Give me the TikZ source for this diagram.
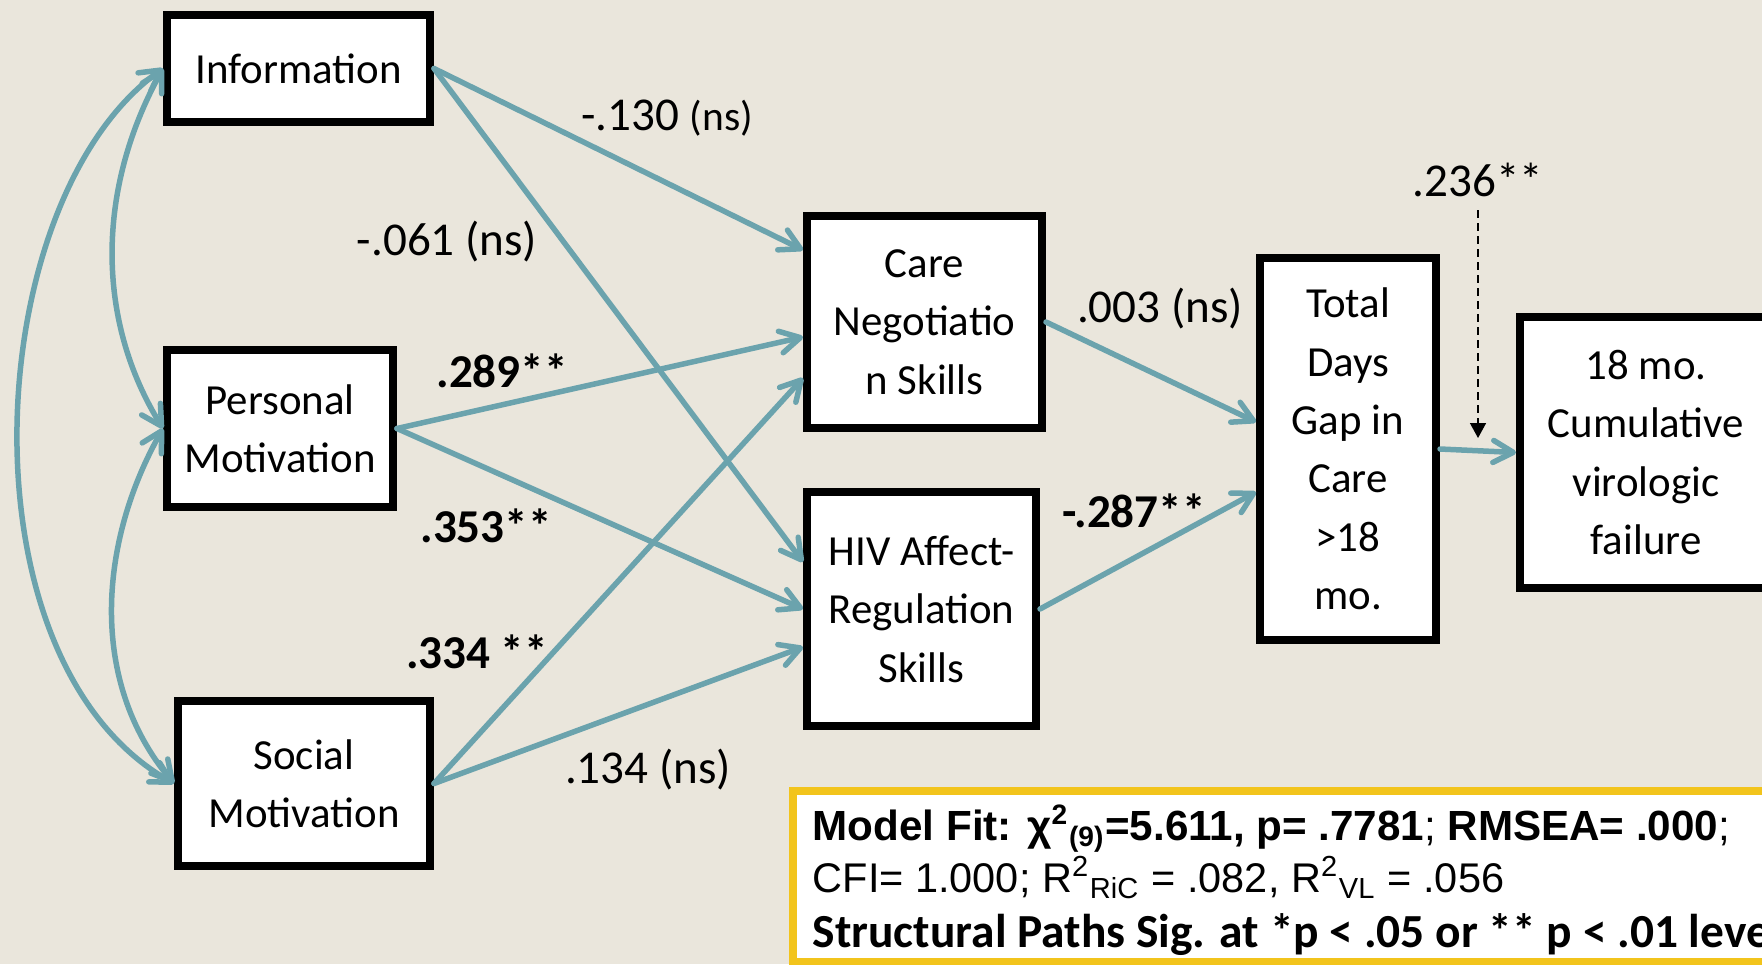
\documentclass[tikz,border=0pt]{standalone}
\usepackage{fontspec}
\setmainfont{Carlito}
\newfontfamily\arialfont{Liberation Sans}
\usetikzlibrary{arrows.meta}
\definecolor{bgbeige}{HTML}{EAE6DC}
\definecolor{pathteal}{HTML}{6BA3AD}
\definecolor{fitgold}{HTML}{F2C41C}
\tikzset{
  var/.style={draw=black,fill=white,line width=.08cm,inner sep=0pt,align=center,font=\fontsize{12.2}{16.6}\selectfont},
  sempath/.style={draw=pathteal,line width=.055cm,line cap=round,-{Straight Barb[length=.2cm,width=.22cm,round]}},
  corr/.style={sempath,{Straight Barb[length=.2cm,width=.22cm,round]}-{Straight Barb[length=.2cm,width=.22cm,round]}},
  modpath/.style={draw=black,line width=.015cm,dash pattern=on .08cm off .05cm,-{Triangle[length=.15cm,width=.16cm]}},
  coef/.style={inner sep=0pt,font=\fontsize{13.4}{16}\selectfont},
  coefsig/.style={inner sep=0pt,font=\fontsize{13.4}{16}\selectfont\bfseries},
  fitline/.style={anchor=base west,inner sep=0pt}
}
\begin{document}
\begin{tikzpicture}
\useasboundingbox (0,0) rectangle (17.62,-9.64);
\fill[bgbeige] (0,0) rectangle (17.62,-9.64);
\clip (0,0) rectangle (17.62,-9.64);
\node[var,minimum width=2.63cm,minimum height=1.07cm] (info) at (2.985,-.685) {Information};
\node[var,minimum width=2.26cm,minimum height=1.57cm] (pers) at (2.80,-4.285) {Personal\\Motivation};
\node[var,minimum width=2.52cm,minimum height=1.65cm] (soc) at (3.04,-7.835) {Social\\Motivation};
\node[var,minimum width=2.35cm,minimum height=2.12cm] (care) at (9.245,-3.22) {Care\\Negotiatio\\n Skills};
\node[var,minimum width=2.29cm,minimum height=2.34cm] (hiv) at (9.215,-6.09) {HIV Affect-\\Regulation\\Skills};
\node[var,minimum width=1.76cm,minimum height=3.82cm] (total) at (13.48,-4.49) {Total\\Days\\Gap in\\Care\\>18\\mo.};
\node[var,minimum width=2.52cm,minimum height=2.71cm] (fail) at (16.46,-4.525) {18 mo.\\Cumulative\\virologic\\failure};
\draw[corr] (info.west) .. controls (-.2,-2.0) and (-.44,-6.6) .. (soc.west);
\draw[corr] (info.west) .. controls (.96,-1.9) and (.96,-3.2) .. (pers.west);
\draw[corr] (pers.west) .. controls (1.0,-5.4) and (.87,-6.8) .. (soc.west);
\draw[sempath] (info.east) -- ([yshift=.72cm]care.west);
\draw[sempath] (info.east) -- ([yshift=.47cm]hiv.west);
\draw[sempath] (pers.east) -- ([yshift=-.15cm]care.west);
\draw[sempath] (pers.east) -- (hiv.west);
\draw[sempath] (soc.east) -- ([yshift=-.56cm]care.west);
\draw[sempath] (soc.east) -- ([yshift=-.38cm]hiv.west);
\draw[sempath] (care.east) -- ([yshift=.27cm]total.west);
\draw[sempath] (hiv.east) -- ([yshift=-.43cm]total.west);
\draw[sempath] (total.east) -- (fail.west);
\coordinate (modStart) at (14.78,-2.10);
\coordinate (modEnd) at (14.78,-4.38);
\draw[modpath] (modStart) -- (modEnd);
\node[coef] (lInfoCare) at (6.67,-1.18) {-.130 {\fontsize{11.8}{14}\selectfont(ns)}};
\node[coef] (lInfoHiv) at (4.47,-2.42) {-.061 (ns)};
\node[coefsig] (lPersCare) at (5.02,-3.71) {.289**};
\node[coefsig] (lPersHiv) at (4.86,-5.26) {.353**};
\node[coefsig] (lSocCare) at (4.77,-6.52) {.334 **};
\node[coef] (lSocHiv) at (6.48,-7.70) {.134 (ns)};
\node[coef] (lCareTot) at (11.60,-3.09) {.003 (ns)};
\node[coefsig] (lHivTot) at (11.34,-5.11) {-.287**};
\node[coef] (lMod) at (14.78,-1.80) {.236**};
\path[draw=fitgold,fill=white,line width=.08cm] (7.93,-7.91) rectangle (18.2,-9.62);
\node[fitline,font=\arialfont\fontsize{12}{14}\selectfont\bfseries] (fitA) at (8.12,-8.40) {Model Fit: χ\textsuperscript{2}\textsubscript{(9)}=5.611, p= .7781{\mdseries;} RMSEA= .000{\mdseries;}};
\node[fitline,font=\arialfont\fontsize{11.8}{14}\selectfont] (fitB) at (8.12,-8.92) {CFI= 1.000; R\textsuperscript{2}\textsubscript{RiC} = .082, R\textsuperscript{2}\textsubscript{VL} = .056};
\node[fitline,font=\fontsize{13.5}{15}\selectfont\bfseries] (fitC) at (8.12,-9.47) {Structural Paths Sig. at *p < .05 or ** p < .01 level};
\end{tikzpicture}
\end{document}
